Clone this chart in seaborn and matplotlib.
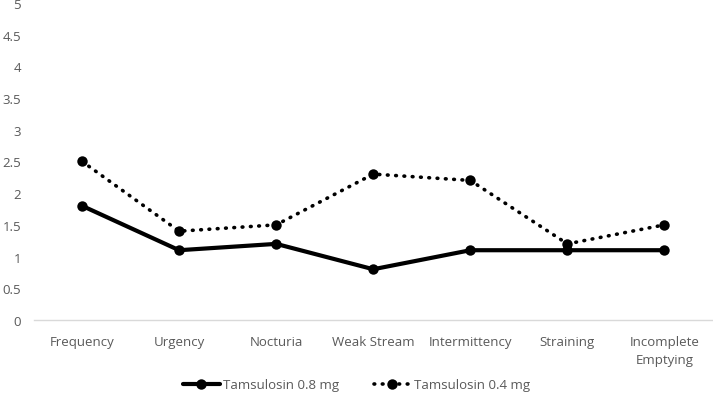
import numpy as np
import pandas as pd
import matplotlib
matplotlib.use("Agg")
import matplotlib.pyplot as plt
import seaborn as sb

symptoms = ["Frequency", "Urgency", "Nocturia", "Weak Stream", "Intermittency",
            "Straining", "Incomplete\nEmptying"]
dose_08 = [1.8, 1.1, 1.2, 0.8, 1.1, 1.1, 1.1]
dose_04 = [2.5, 1.4, 1.5, 2.3, 2.2, 1.2, 1.5]
series_names = ["Tamsulosin 0.8 mg", "Tamsulosin 0.4 mg"]
yticks = np.arange(0, 5.01, 0.5)

df = pd.DataFrame({
	"symptom": symptoms * 2,
	"score": dose_08 + dose_04,
	"dose": [series_names[0]] * len(symptoms) + [series_names[1]] * len(symptoms),
})

sb.set_style("white")
plt.rcParams["font.family"] = ["Open Sans", "DejaVu Sans"]
grey = "#595959"
dot = (0.2, 2.1)

fig = plt.figure(figsize=(7.13, 4.02), dpi=100)
ax = fig.add_axes([0.047, 0.2015, 0.953, 0.789])
sb.lineplot(data=df[df.dose == series_names[0]], x="symptom", y="score", color="black",
	marker="o", markersize=7.5, markeredgewidth=0, linewidth=3, sort=False, ax=ax)
sb.lineplot(data=df[df.dose == series_names[1]], x="symptom", y="score", color="black",
	marker="o", markersize=7.5, markeredgewidth=0, linewidth=2.6, dashes=dot,
	dash_capstyle="round", sort=False, ax=ax)

ax.set_xlim(-0.5, len(symptoms) - 0.5)
ax.set_ylim(0, 5)
ax.set_yticks(yticks)
ax.set_yticklabels([f"{v:g}" for v in yticks])
ax.set_xlabel("")
ax.set_ylabel("")
for s in ["top", "right", "left"]:
	ax.spines[s].set_visible(False)
ax.spines["bottom"].set_color("#d9d9d9")
ax.spines["bottom"].set_linewidth(1)
ax.tick_params(axis="both", length=0, colors=grey, labelsize=9.5)
ax.tick_params(axis="x", pad=11)
ax.tick_params(axis="y", pad=9)
for t in ax.get_xticklabels():
	t.set_linespacing(1.45)
ax.grid(False)

handles = [
	plt.Line2D([], [], color="black", lw=3, marker="o", markersize=7.5, markeredgewidth=0),
	plt.Line2D([], [], color="black", lw=2.6, ls=(0, dot), dash_capstyle="round", marker="o",
		markersize=7.5, markeredgewidth=0),
]
leg = fig.legend(handles, series_names, loc="center", bbox_to_anchor=(0.5, 0.04), ncol=2,
	frameon=False, fontsize=9.5, handlelength=2.8, handletextpad=0.25, columnspacing=2.6)
for t in leg.get_texts():
	t.set_color(grey)

fig.savefig("out.png", dpi=100)
